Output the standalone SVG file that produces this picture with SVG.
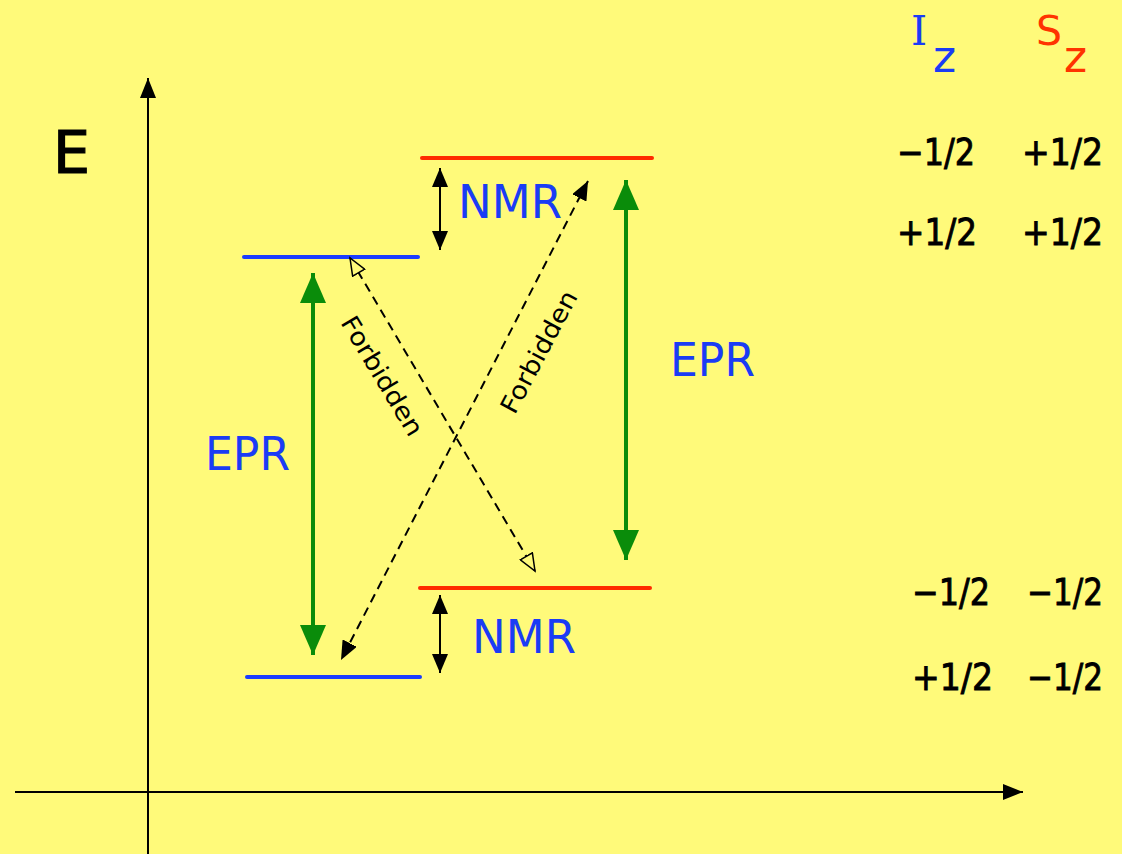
<svg xmlns="http://www.w3.org/2000/svg" width="1122" height="854" viewBox="0 0 1122 854">
<style>
.t{font-family:"DejaVu Sans","Liberation Sans",sans-serif;}
.num{font-size:37px;fill:#000;stroke:#000;stroke-width:0.9;}
.blue{fill:#1a3cf5;}
.lvlb{stroke:#1a3cff;stroke-width:4;stroke-linecap:round;}
.lvlr{stroke:#ff2a00;stroke-width:4;stroke-linecap:round;}
.green{stroke:#0a8c0a;stroke-width:4;fill:none;}
.nmr{stroke:#000;stroke-width:2;fill:none;}
.dash{stroke:#000;stroke-width:2;stroke-dasharray:9 6;fill:none;}
.axis{stroke:#000;stroke-width:2;fill:none;}
</style>
<defs>
<marker id="gh" markerUnits="userSpaceOnUse" markerWidth="30" markerHeight="26" viewBox="0 0 30 26" refX="30" refY="13" orient="auto-start-reverse"><path d="M0,0 L30,13 L0,26 Z" fill="#0a8c0a"/></marker>
<marker id="bh" markerUnits="userSpaceOnUse" markerWidth="19" markerHeight="16" viewBox="0 0 19 16" refX="19" refY="8" orient="auto-start-reverse"><path d="M0,0 L19,8 L0,16 Z" fill="#000"/></marker>
<marker id="oh" markerUnits="userSpaceOnUse" markerWidth="20" markerHeight="16" viewBox="-1 -1 20 16" refX="17" refY="7" orient="auto-start-reverse"><path d="M0,0 L17,7 L0,14 Z" fill="#fffa7a" stroke="#000" stroke-width="1.5"/></marker>
<marker id="ah" markerUnits="userSpaceOnUse" markerWidth="20" markerHeight="16" viewBox="0 0 20 16" refX="20" refY="8" orient="auto"><path d="M0,0 L20,8 L0,16 Z" fill="#000"/></marker>
</defs>
<rect width="1122" height="854" fill="#fffa7a"/>

<g id="axes">
<line class="axis" x1="148" y1="854" x2="148" y2="78" marker-end="url(#ah)"/>
<line class="axis" x1="15" y1="792" x2="1023" y2="792" marker-end="url(#ah)"/>
<text class="t" x="53" y="173" font-size="58" fill="#000" stroke="#000" stroke-width="1.2" textLength="37" lengthAdjust="spacingAndGlyphs">E</text>
</g>

<g id="levels">
<line id="lvl1" class="lvlr" x1="422" y1="158" x2="652" y2="158"/>
<line id="lvl2" class="lvlb" x1="244" y1="257" x2="418" y2="257"/>
<line id="lvl3" class="lvlr" x1="420" y1="588" x2="650" y2="588"/>
<line id="lvl4" class="lvlb" x1="247" y1="677" x2="420" y2="677"/>
</g>

<g id="connectors">
<line class="green" x1="313" y1="273" x2="313" y2="655" marker-start="url(#gh)" marker-end="url(#gh)"/>
<line class="green" x1="626" y1="180" x2="626" y2="560" marker-start="url(#gh)" marker-end="url(#gh)"/>
<line class="nmr" x1="440" y1="168" x2="440" y2="250" marker-start="url(#bh)" marker-end="url(#bh)"/>
<line class="nmr" x1="440" y1="595" x2="440" y2="673" marker-start="url(#bh)" marker-end="url(#bh)"/>
<line class="dash" x1="350" y1="258" x2="535" y2="571" marker-start="url(#oh)" marker-end="url(#oh)"/>
<line class="dash" x1="588" y1="181" x2="341" y2="660" marker-start="url(#bh)" marker-end="url(#bh)"/>
</g>

<g id="labels">
<text class="t blue" x="458" y="218" font-size="46" textLength="104" lengthAdjust="spacingAndGlyphs">NMR</text>
<text class="t blue" x="472" y="653" font-size="46" textLength="104" lengthAdjust="spacingAndGlyphs">NMR</text>
<text class="t blue" x="205" y="470" font-size="46" textLength="85" lengthAdjust="spacingAndGlyphs">EPR</text>
<text class="t blue" x="670" y="376" font-size="46" textLength="85" lengthAdjust="spacingAndGlyphs">EPR</text>
<text class="t" x="0" y="0" font-size="25" fill="#000" text-anchor="middle" dominant-baseline="central" textLength="135" lengthAdjust="spacingAndGlyphs" transform="translate(382,376) rotate(59)">Forbidden</text>
<text class="t" x="0" y="0" font-size="25" fill="#000" text-anchor="middle" dominant-baseline="central" textLength="135" lengthAdjust="spacingAndGlyphs" transform="translate(539,352) rotate(-62)">Forbidden</text>
</g>

<g id="quantum-numbers">
<text x="911" y="45" font-size="41" font-family="'DejaVu Serif','Liberation Serif',serif" fill="#1a3cf5">I</text>
<text class="t" x="933" y="72" font-size="44" fill="#1a3cf5">z</text>
<text class="t" x="1036" y="45" font-size="41" fill="#ff3300">S</text>
<text class="t" x="1064" y="72" font-size="44" fill="#ff3300">z</text>
<text class="t num" x="897" y="165" textLength="78" lengthAdjust="spacingAndGlyphs">−1/2</text>
<text class="t num" x="1022" y="165" textLength="81" lengthAdjust="spacingAndGlyphs">+1/2</text>
<text class="t num" x="897" y="245" textLength="80" lengthAdjust="spacingAndGlyphs">+1/2</text>
<text class="t num" x="1022" y="245" textLength="81" lengthAdjust="spacingAndGlyphs">+1/2</text>
<text class="t num" x="912" y="605" textLength="78" lengthAdjust="spacingAndGlyphs">−1/2</text>
<text class="t num" x="1027" y="605" textLength="76" lengthAdjust="spacingAndGlyphs">−1/2</text>
<text class="t num" x="912" y="690" textLength="81" lengthAdjust="spacingAndGlyphs">+1/2</text>
<text class="t num" x="1027" y="690" textLength="76" lengthAdjust="spacingAndGlyphs">−1/2</text>
</g>
</svg>
